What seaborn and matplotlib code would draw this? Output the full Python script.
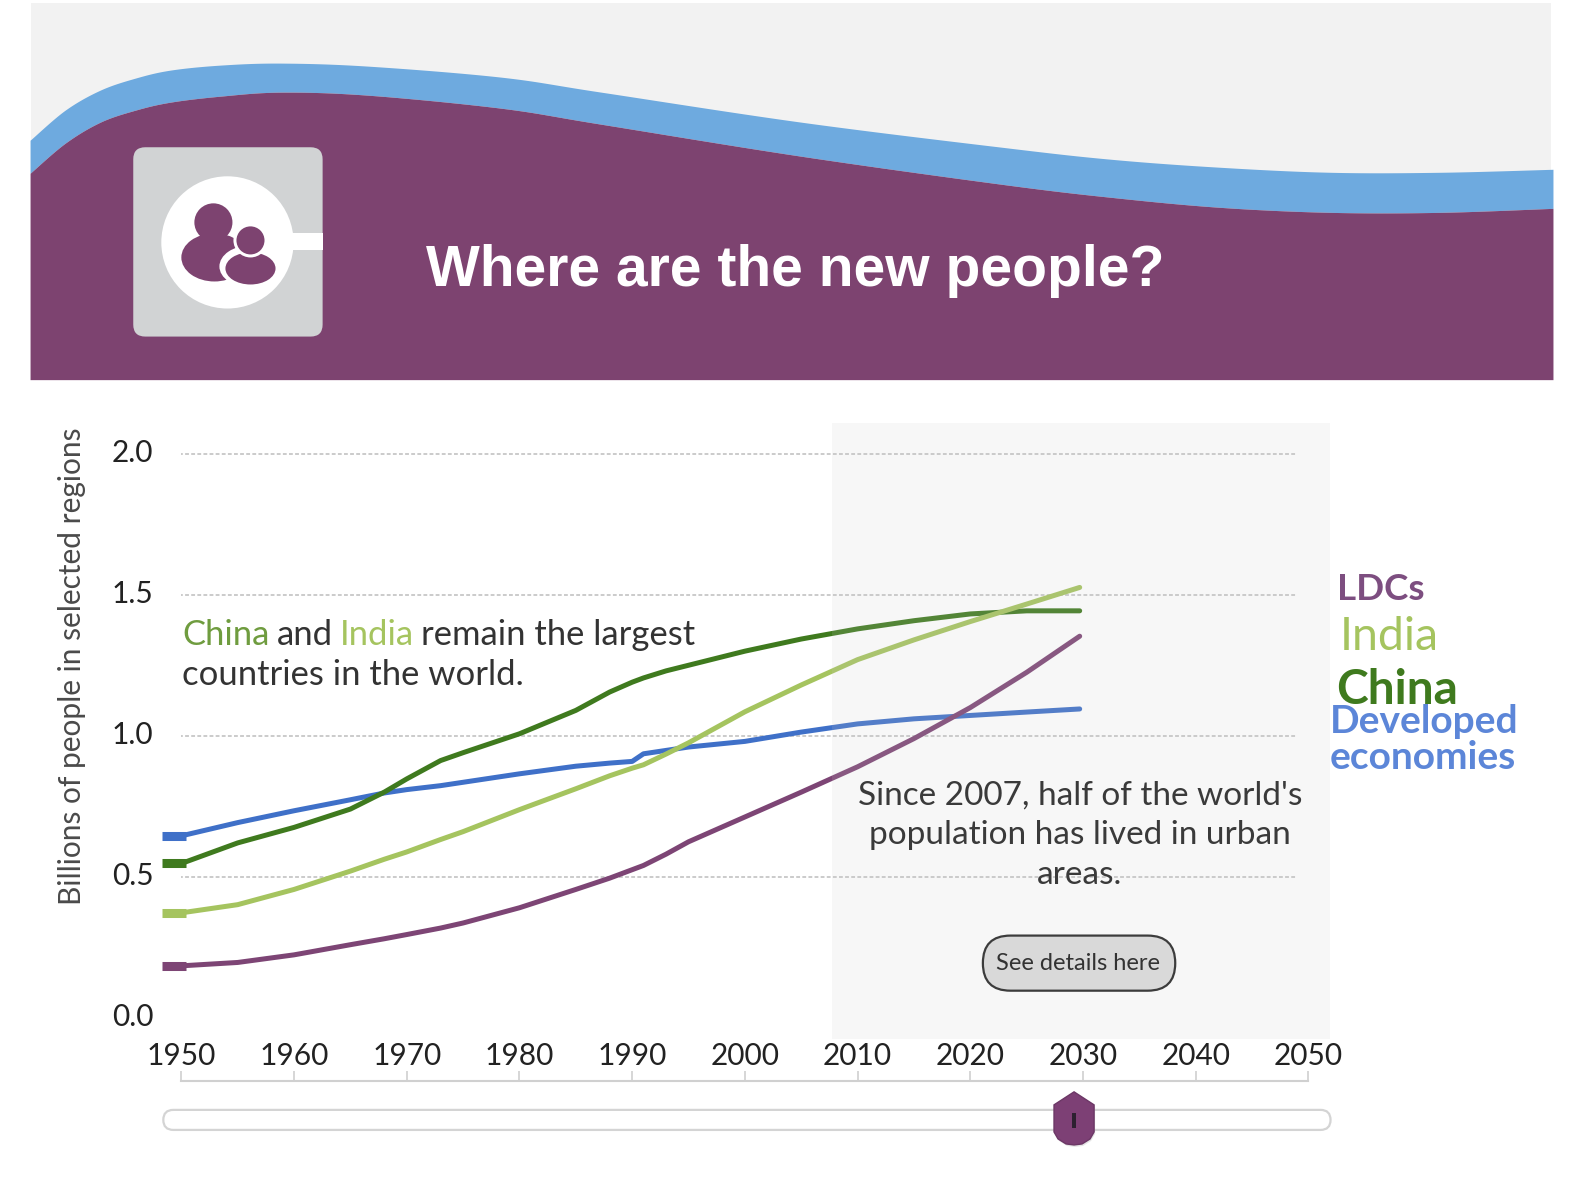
import numpy as np
import pandas as pd
import seaborn as sns
import matplotlib
matplotlib.use('Agg')
import matplotlib.pyplot as plt
from matplotlib.patches import Circle, Ellipse, FancyBboxPatch, Polygon, Rectangle
from matplotlib.transforms import ScaledTranslation

# Values (billions of people)
years = [1950, 1955, 1960, 1965, 1968, 1970, 1973, 1975, 1980, 1985, 1988, 1990, 1991, 1993, 1995, 2000, 2005, 2010, 2015, 2020, 2025, 2029.7]
developed = [0.645, 0.692, 0.734, 0.773, 0.797, 0.809, 0.823, 0.835, 0.865, 0.892, 0.903, 0.909, 0.936, 0.948, 0.96, 0.98, 1.013, 1.042, 1.06, 1.072, 1.084, 1.095]
china = [0.547, 0.62, 0.675, 0.74, 0.80, 0.847, 0.912, 0.94, 1.007, 1.09, 1.155, 1.19, 1.205, 1.23, 1.25, 1.30, 1.343, 1.379, 1.408, 1.432, 1.443, 1.443]
india = [0.372, 0.401, 0.455, 0.52, 0.562, 0.588, 0.632, 0.66, 0.738, 0.812, 0.858, 0.885, 0.897, 0.935, 0.975, 1.085, 1.18, 1.27, 1.34, 1.405, 1.467, 1.526]
ldcs = [0.184, 0.196, 0.223, 0.259, 0.28, 0.295, 0.318, 0.336, 0.39, 0.455, 0.495, 0.525, 0.54, 0.58, 0.624, 0.712, 0.80, 0.89, 0.99, 1.10, 1.225, 1.353]

tick_years = list(range(1950, 2060, 10))
y_ticks = [0.0, 0.5, 1.0, 1.5, 2.0]

PURPLE = '#7d4370'
BLUE = '#3f70c8'
DARK_GREEN = '#3f7a1e'
LIGHT_GREEN = '#a5c45f'
LINE_PURPLE = '#7d4575'
TEXT = '#333333'

# header wave outlines, in picture pixels
wave_x = [30, 65, 100, 135, 170, 220, 280, 367, 500, 600, 800, 1000, 1109, 1218, 1328, 1437, 1550]
wave_top = [140, 110, 90, 78, 70, 65, 63, 66, 77, 92, 122, 147, 159, 167, 172, 172, 169]
wave_low = [173, 143, 122, 110, 102, 96, 92, 95, 108, 124, 156, 184, 197, 207, 212, 212, 208]

W, H = 1568, 1176


def smooth(xs, ys, n=30):
    # Catmull-Rom, only for the decorative header wave
    xs, ys = np.array(xs, float), np.array(ys, float)
    px = np.r_[xs[0], xs, xs[-1]]
    py = np.r_[ys[0], ys, ys[-1]]
    outx, outy = [], []
    t = np.linspace(0, 1, n)
    for i in range(1, len(px) - 2):
        for p, out in ((px, outx), (py, outy)):
            a, b, c, d = p[i - 1], p[i], p[i + 1], p[i + 2]
            out.extend(0.5 * (2 * b + (c - a) * t + (2 * a - 5 * b + 4 * c - d) * t ** 2 + (3 * b - a - 3 * c + d) * t ** 3))
    return np.array(outx), np.array(outy)


def add_axes_px(fig, left, top, right, bottom, **kw):
    return fig.add_axes([left / W, 1 - bottom / H, (right - left) / W, (bottom - top) / H], **kw)


sns.set_theme(style='white')
plt.rcParams['font.family'] = ['Lato', 'DejaVu Sans']

fig = plt.figure(figsize=(15.71, 11.78), dpi=100)

# background layer in picture pixels
bg = fig.add_axes([0, 0, 1, 1], zorder=0)
bg.set_xlim(0, W)
bg.set_ylim(H, 0)
bg.axis('off')

bg.add_patch(Rectangle((31, 3), 1517, 376, fc='#f2f2f2', ec='none'))
sx, top_y = smooth(wave_x, wave_top)
_, low_y = smooth(wave_x, wave_low)
bg.fill_between(sx, top_y, low_y, color='#6eaadf', lw=0)
bg.fill_between(sx, low_y, 379, color=PURPLE, lw=0)

# icon
bg.add_patch(FancyBboxPatch((133, 147), 189, 189, boxstyle='round,pad=0,rounding_size=12', fc='#d1d3d4', ec='none'))
bg.add_patch(Rectangle((285, 233), 37, 17, fc='white', ec='none'))
bg.add_patch(Circle((227, 242), 66, fc='white', ec='none'))
bg.add_patch(Ellipse((214, 257), 66, 48, fc=PURPLE, ec='none'))
bg.add_patch(Circle((213, 222), 19, fc=PURPLE, ec='none'))
bg.add_patch(Ellipse((250, 266), 62, 42, fc='white', ec='none'))
bg.add_patch(Ellipse((250, 268), 50, 32, fc=PURPLE, ec='none'))
bg.add_patch(Circle((250, 240), 17, fc='white', ec='none'))
bg.add_patch(Circle((250, 240), 14, fc=PURPLE, ec='none'))

bg.text(425, 271, 'Where are the new people?', color='white', fontsize=41, fontweight='bold',
        family='Liberation Sans', va='center', ha='left')

# slider track
bg.add_patch(FancyBboxPatch((163, 1108), 1165, 20, boxstyle='round,pad=0,rounding_size=10', fc='white', ec='#d4d4d4', lw=1.6))

# the chart itself: x axis line sits below the plot, labels above it
ax = add_axes_px(fig, 181, 422, 1306, 1079, zorder=1)
ax.patch.set_alpha(0)
ax.set_xlim(1950, 2050)
y_per_px = 2.0 / (1016 - 453)
ax.set_ylim(-(1079 - 1016) * y_per_px, 2.0 + (453 - 422) * y_per_px)

df = pd.DataFrame({'year': years, 'Developed economies': developed, 'China': china, 'India': india, 'LDCs': ldcs})
long_df = df.melt(id_vars='year', var_name='region', value_name='people')
palette = {'Developed economies': BLUE, 'China': DARK_GREEN, 'India': LIGHT_GREEN, 'LDCs': LINE_PURPLE}

ax.hlines(y_ticks[1:], 1949.8, 2049, color='#bdbdbd', lw=1.1, ls=(0, (2.5, 1.5)), zorder=1)
sns.lineplot(data=long_df, x='year', y='people', hue='region', palette=palette, lw=3.6, legend=False, ax=ax, zorder=3)

# thick stub left of the first year
for name, col in palette.items():
    ax.plot([1948.3, 1950.4], [df[name].iloc[0]] * 2, color=col, lw=6.5, clip_on=False, solid_capstyle='butt', zorder=3)

for side in ['top', 'left', 'right']:
    ax.spines[side].set_visible(False)
ax.spines['bottom'].set_color('#d0d0d0')
ax.spines['bottom'].set_linewidth(1.5)
ax.spines['bottom'].set_bounds(1950, 2050)

ax.set_xticks(tick_years)
ax.set_xticklabels([str(y) for y in tick_years])
ax.tick_params(axis='x', direction='in', length=7, width=1.2, color='#d0d0d0', pad=-28, labelsize=21.5, labelcolor='#222222', bottom=True)
ax.set_yticks(y_ticks)
ax.set_yticklabels([f'{v:.1f}' for v in y_ticks])
ax.tick_params(axis='y', length=0, pad=20, labelsize=21.5, labelcolor='#222222')
ax.set_xlabel('')
ax.set_ylabel('')
lift = ScaledTranslation(0, 3.5 / 100, fig.dpi_scale_trans)
for lab in ax.get_yticklabels():
    lab.set_transform(lab.get_transform() + lift)

# foreground layer for shaded band, text and slider handle
fg = fig.add_axes([0, 0, 1, 1], zorder=2)
fg.set_xlim(0, W)
fg.set_ylim(H, 0)
fg.axis('off')
fg.patch.set_alpha(0)

# band sits over the lines and washes them out a little
fg.add_patch(Rectangle((830, 422), 497, 615, fc='#cacaca', ec='none', alpha=0.15))

fg.text(72, 665, 'Billions of people in selected regions', rotation=90, fontsize=21.5, color='#4a4a4a', ha='center', va='center')

# first note, coloured word by word
renderer = fig.canvas.get_renderer()
cursor = 182
for part, col in [('China ', '#6f9c3f'), ('and ', TEXT), ('India ', LIGHT_GREEN), ('remain the largest', TEXT)]:
    t = fg.text(cursor, 634, part.strip(), color=col, fontsize=24.9, va='center', ha='left')
    ext = t.get_window_extent(renderer)
    cursor = ext.x1 * W / fig.bbox.width + (7 if part.endswith(' ') else 0)
fg.text(182, 674, 'countries in the world.', color=TEXT, fontsize=24.9, va='center', ha='left')

fg.text(1078, 834, "Since 2007, half of the world's\npopulation has lived in urban\nareas.", color='#3a3a3a', fontsize=24,
        ha='center', va='center', linespacing=1.41)

fg.add_patch(FancyBboxPatch((981, 934), 192, 55, boxstyle='round,pad=0,rounding_size=27.5', fc='#d9d9d9', ec='#3c3c3c', lw=1.6))
fg.text(1076, 962, 'See details here', color='#333333', fontsize=17, ha='center', va='center')

fg.text(1334, 588, 'LDCs', color='#7d4e80', fontsize=26.5, fontweight='bold', ha='left', va='center')
fg.text(1337, 636, 'India', color=LIGHT_GREEN, fontsize=33.5, ha='left', va='center')
fg.text(1334, 689, 'China', color=DARK_GREEN, fontsize=34.5, fontweight='bold', ha='left', va='center')
fg.text(1327, 720, 'Developed', color='#5c86d8', fontsize=28, fontweight='bold', ha='left', va='center')
fg.text(1327, 756, 'economies', color='#5c86d8', fontsize=28, fontweight='bold', ha='left', va='center')

# slider handle
handle = [(1052, 1103), (1072, 1090), (1092, 1103), (1092, 1130), (1088, 1137), (1080, 1142), (1072, 1143), (1064, 1142), (1056, 1137), (1052, 1130)]
fg.add_patch(Polygon([(x + 1, y + 2) for x, y in handle], closed=True, fc='#cccccc', ec='none', alpha=0.5))
fg.add_patch(Polygon(handle, closed=True, fc='#7d4075', ec='#6c3766', lw=1))
fg.add_patch(Rectangle((1070, 1111), 4, 15, fc='#2c2030', ec='none'))

fig.savefig('out.png', dpi=100)
